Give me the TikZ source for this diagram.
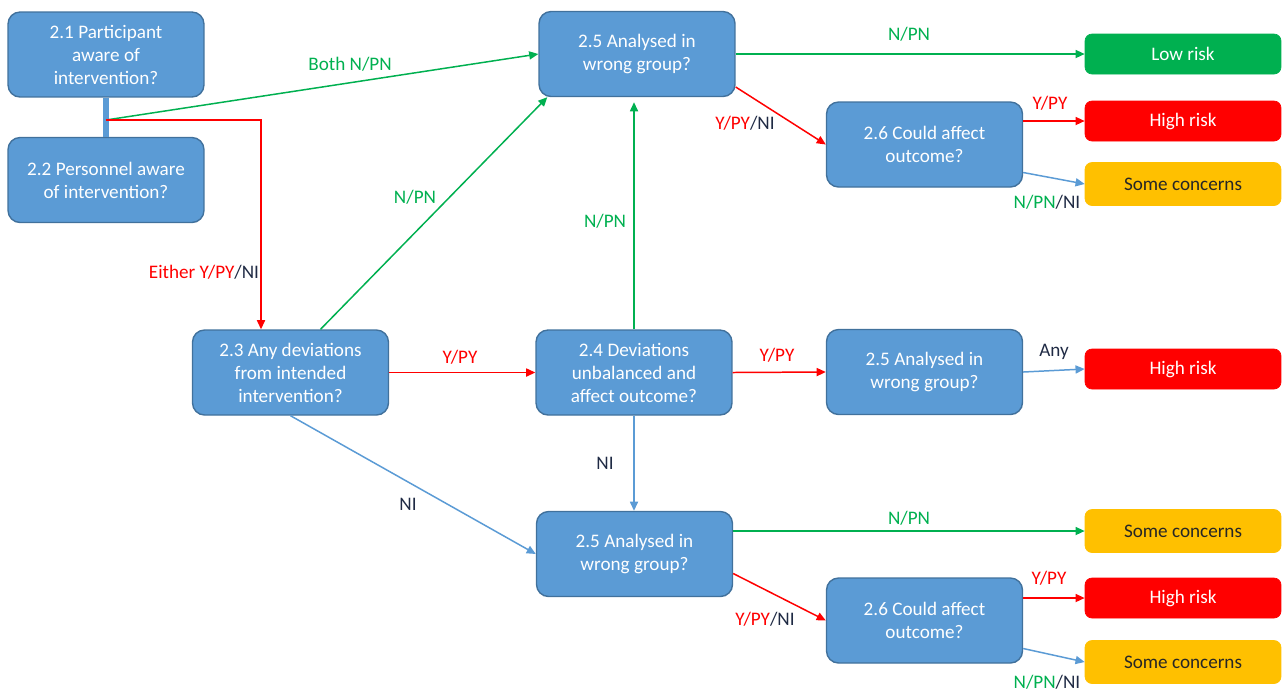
\documentclass[tikz,border=0pt]{standalone}
\usepackage{fontspec}
\setmainfont{Carlito}
\usetikzlibrary{arrows.meta,calc}
\definecolor{qfill}{HTML}{5B9BD5}
\definecolor{qline}{HTML}{41719C}
\definecolor{okgreen}{HTML}{00B050}
\definecolor{badred}{HTML}{FF0000}
\definecolor{midamber}{HTML}{FFC000}
\definecolor{ninavy}{HTML}{1F2A44}
\definecolor{sctext}{HTML}{262626}
\tikzset{
  x=0.02cm, y=-0.02cm,
  every node/.style={font=\fontsize{10.9}{13.1}\selectfont},
  qbox/.style={draw=qline, line width=0.8pt, fill=qfill, rounded corners=0.24cm,
    minimum width=3.92cm, minimum height=1.7cm, align=center, text=white, inner sep=2pt},
  outbox/.style={rounded corners=0.14cm, minimum width=3.92cm, minimum height=0.8cm,
    align=center, inner sep=2pt},
  lowbox/.style={outbox, fill=okgreen, draw=okgreen, text=white},
  highbox/.style={outbox, fill=badred, draw=badred, text=white},
  scbox/.style={outbox, fill=midamber, draw=midamber, text=sctext, minimum height=0.86cm},
  link/.style={line width=0.85pt, -{Triangle[length=5.2pt,width=4.6pt]}},
  glink/.style={link, draw=okgreen},
  rlink/.style={link, draw=badred},
  blink/.style={link, draw=qfill},
  lbl/.style={inner sep=1pt}
}
\newcommand{\rY}{\textcolor{badred}{Y/PY}}
\newcommand{\gN}{\textcolor{okgreen}{N/PN}}
\newcommand{\nNI}{\textcolor{ninavy}{/NI}}
\begin{document}
\begin{tikzpicture}
\useasboundingbox (0,0) rectangle (1284,691);

% question boxes
\node[qbox] (n21) at (106,54.5) {2.1 Participant\\aware of\\intervention?};
\node[qbox] (n22) at (106,180) {2.2 Personnel aware\\of intervention?};
\node[qbox] (n23) at (290.5,372.5) {2.3 Any deviations\\from intended\\intervention?};
\node[qbox] (n25a) at (637,54) {2.5 Analysed in\\wrong group?};
\node[qbox] (n24) at (634,372.5) {2.4 Deviations\\unbalanced and\\affect outcome?};
\node[qbox] (n25b) at (924.5,372) {2.5 Analysed in\\wrong group?};
\node[qbox] (n25c) at (634.5,554) {2.5 Analysed in\\wrong group?};
\node[qbox] (n26a) at (924.5,144.5) {2.6 Could affect\\outcome?};
\node[qbox] (n26b) at (924.5,620.5) {2.6 Could affect\\outcome?};

% judgement boxes
\node[lowbox] (low) at (1183,54) {Low risk};
\node[highbox] (hi1) at (1183,121) {High risk};
\node[scbox] (sc1) at (1183,184) {Some concerns};
\node[highbox] (hi2) at (1183,369) {High risk};
\node[scbox] (sc2) at (1183,531) {Some concerns};
\node[highbox] (hi3) at (1183,598) {High risk};
\node[scbox] (sc3) at (1183,662) {Some concerns};

% joint of the two awareness questions
\draw[qfill, line width=3.4pt] (n21.south) -- (n22.north);
\coordinate (j) at (106,120);
\draw[glink] (j) -- (n25a.west);
\draw[rlink] (j) -| ($(n23.north)+(-29.5,0)$);

% links
\draw[glink] (n25a.east |- low.west) -- (low.west);
\draw[rlink] ($(n25a.east)+(0,33)$) -- (n26a.west);
\draw[rlink] (n26a.east |- hi1.west) -- (hi1.west);
\draw[blink] ($(n26a.east)+(0,28)$) -- (sc1.west);
\draw[glink] ($(n23.north)+(30,0)$) -- ($(n25a.south west)+(9,0)$);
\draw[glink] (n24.north) -- ($(n24.north |- n25a.south)+(0,5)$);
\draw[rlink] (n23.east) -- (n24.west);
\draw[rlink] (n24.east) -- (n25b.west);
\draw[blink] (n25b.east) -- (hi2.west);
\draw[blink] (n24.south) -- (n24.south |- n25c.north);
\draw[blink] (n23.south) -- (n25c.west);
\draw[glink] (n25c.east |- sc2.west) -- (sc2.west);
\draw[rlink] ($(n25c.east)+(0,19.5)$) -- (n26b.west);
\draw[rlink] (n26b.east |- hi3.west) -- (hi3.west);
\draw[blink] ($(n26b.east)+(0,28)$) -- (sc3.west);

% answer labels
\node[lbl] (l1) at (350,64) {\textcolor{okgreen}{Both N/PN}};
\node[lbl] (l2) at (204,272) {\textcolor{badred}{Either Y/PY}\nNI};
\node[lbl] (l3) at (909,34) {\gN};
\node[lbl] (l4) at (745,123) {\rY\nNI};
\node[lbl] (l5) at (1050,103) {\rY};
\node[lbl] (l6) at (1047,202) {\gN\nNI};
\node[lbl] (l7) at (415,197) {\gN};
\node[lbl] (l8) at (605,221) {\gN};
\node[lbl] (l9) at (460,357) {\rY};
\node[lbl] (l10) at (777,355) {\rY};
\node[lbl] (l11) at (1054,352) {\textcolor{ninavy}{Any}};
\node[lbl] (l12) at (605,463) {\textcolor{ninavy}{NI}};
\node[lbl] (l13) at (408,504) {\textcolor{ninavy}{NI}};
\node[lbl] (l14) at (909,518) {\gN};
\node[lbl] (l15) at (765,619) {\rY\nNI};
\node[lbl] (l16) at (1049,578) {\rY};
\node[lbl] (l17) at (1047,682) {\gN\nNI};
\end{tikzpicture}
\end{document}
